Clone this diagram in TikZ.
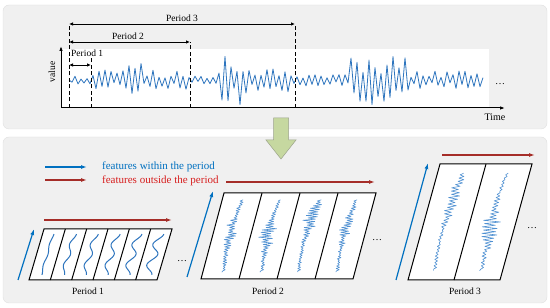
\documentclass[tikz,border=0pt]{standalone}
\usepackage{fontspec}
\setmainfont{Liberation Serif}
\usetikzlibrary{arrows.meta}

\definecolor{panelgray}{RGB}{240,240,240}
\definecolor{sigblue}{RGB}{46,117,190}
\definecolor{wavblue}{RGB}{80,145,210}
\definecolor{featblue}{RGB}{0,112,192}
\definecolor{featred}{RGB}{165,45,40}
\definecolor{textred}{RGB}{215,30,30}
\definecolor{arrowgreen}{RGB}{198,216,160}

% one signal piece running up a slanted slice
\newcommand{\slicewave}[6]{%
  \draw[wave] ({#1+#4*0.08},{#2+#3*0.08})
    \foreach \i in {1,...,60} {
      -- ({#1+#4*(0.08+0.014*\i)+2*sin(300*(0.08+0.014*\i)+#6*200)
           +(1-2*mod(\i,2))*(1.8+#5*bump(0.08+0.014*\i,#6))*(0.2+0.8*rnd)},
          {#2+#3*(0.08+0.014*\i)})
    };}

\begin{document}
\begin{tikzpicture}[x=1pt,y=1pt,
    panel/.style={fill=panelgray,draw=gray!25,rounded corners=6pt},
    axis/.style={line width=1pt,-{Latex[length=5pt,width=3.5pt]}},
    span/.style={line width=0.9pt,{Latex[length=4pt,width=3.5pt]}-{Latex[length=4pt,width=3.5pt]}},
    guide/.style={line width=0.9pt,dash pattern=on 4pt off 2.5pt},
    signal/.style={sigblue,line width=0.8pt,line join=round},
    wave/.style={wavblue,line width=0.6pt,line join=round},
    ripple/.style={sigblue,line width=1pt},
    slicebox/.style={fill=white,draw=black,line width=1pt},
    inarrow/.style={featblue,line width=1.2pt,-{Latex[length=6pt,width=4pt]}},
    outarrow/.style={featred,line width=1.2pt,-{Latex[length=6pt,width=4pt]}},
    lab/.style={font=\fontsize{9.5}{11}\selectfont,inner sep=0pt},
    legtext/.style={font=\fontsize{11}{13}\selectfont,anchor=base west,inner sep=0pt},
    declare function={
      env(\x)=(\x<91) ? 4 : ((\x<128) ? 10 : ((\x<150) ? 17 : ((\x<190) ? 10 :
              ((\x<218) ? 4 : ((\x<252) ? 25 : ((\x<295) ? 12 : ((\x<350) ? 6 :
              ((\x<410) ? 25 : 9))))))));
      bump(\t,\c)=exp(-((\t-\c)*(\t-\c))/0.03);
    }]
  \useasboundingbox (0,0) rectangle (550,308);
  \pgfmathsetseed{12}

  % Panels
  \draw[panel] (3,179) rectangle (547,303);
  \draw[panel] (3,5) rectangle (547,171);

  % Signal and axes
  \fill[white] (61,200) rectangle (489,259);
  \draw[signal] (69,228)
    \foreach \i in {1,...,138} {
      -- ({69+3*\i},{228+env(69+3*\i)*(1-2*mod(\i,2))*(0.2+0.8*rnd)})
    };
  \draw[axis] (61,200) -- (505,200);
  \draw[axis] (61,200) -- (61,262);
  \node[font=\fontsize{10}{12}\selectfont,anchor=base] (time) at (495,187) {Time};
  \node[font=\fontsize{9.5}{11}\selectfont,rotate=90] (value) at (52,236) {value};
  \node[font=\fontsize{10}{12}\selectfont,anchor=base] (topdots) at (500,223) {\dots};

  % Period marks
  \draw[guide] (69,200) -- (69,284);
  \draw[guide] (91,200) -- (91,250);
  \draw[guide] (190,200) -- (190,266);
  \draw[guide] (295,200) -- (295,284);
  \draw[span] (69,243) -- (91,243);
  \draw[span] (69,266) -- (190,266);
  \draw[span] (69,284) -- (295,284);
  \node[lab,anchor=base west] (tp1) at (71,251) {Period 1};
  \node[lab,anchor=base] (tp2) at (128,268) {Period 2};
  \node[lab,anchor=base] (tp3) at (182,286) {Period 3};

  % Green arrow
  \draw[fill=arrowgreen,draw=gray!60!arrowgreen,line width=0.5pt]
    (273.5,190) -- (288.5,190) -- (288.5,168) -- (296,168) -- (281,149)
    -- (266,168) -- (273.5,168) -- cycle;

  % Legend
  \draw[inarrow] (45,141) -- (87,141);
  \draw[outarrow] (45,128) -- (87,128);
  \node[legtext,text=featblue] (legin) at (102,138) {features within the period};
  \node[legtext,text=textred] (legout) at (102,124) {features outside the period};

  % Period 1
  \draw[slicebox] (29,28) -- (157,28) -- (172,79) -- (44,79) -- cycle;
  \foreach \k in {1,...,5}
    \draw[line width=1pt] ({29+21.33*\k},28) -- ++(15,51);
  \foreach \k/\a in {0/0.8,1/2,2/2.5,3/3,4/3.5,5/4}
    \draw[ripple] plot[domain=0.1:0.9,samples=40,variable=\t]
      ({29+21.33*(\k+0.5)+15*\t+\a*sin(900*\t)},{28+51*\t});
  \draw[inarrow] (18,28) -- (34,79);
  \draw[outarrow] (44,88) -- (172,88);
  \node[lab,anchor=base] (bp1) at (88,13) {Period 1};
  \node[font=\fontsize{10}{12}\selectfont,anchor=base] (dots1) at (182,46) {\dots};

  % Period 2
  \draw[slicebox] (201,29) -- (353,29) -- (376,115) -- (224,115) -- cycle;
  \foreach \k in {1,...,3}
    \draw[line width=1pt] ({201+38*\k},29) -- ++(23,86);
  \slicewave{220}{29}{86}{23}{5}{0.55}
  \slicewave{258}{29}{86}{23}{7}{0.5}
  \slicewave{296}{29}{86}{23}{7}{0.7}
  \slicewave{334}{29}{86}{23}{5}{0.6}
  \draw[inarrow] (187,31) -- (213,117);
  \draw[outarrow] (226,126) -- (375,126);
  \node[lab,anchor=base] (bp2) at (268,13) {Period 2};
  \node[font=\fontsize{10}{12}\selectfont,anchor=base] (dots2) at (377,67) {\dots};

  % Period 3
  \draw[slicebox] (408,28) -- (500,28) -- (532,144) -- (440,144) -- cycle;
  \draw[line width=1pt] (454,28) -- (486,144);
  \slicewave{431}{28}{116}{32}{6}{0.7}
  \slicewave{477}{28}{116}{32}{8}{0.45}
  \draw[inarrow] (396,28) -- (428,145);
  \draw[outarrow] (442,153) -- (535,153);
  \node[lab,anchor=base] (bp3) at (465,13) {Period 3};
  \node[font=\fontsize{10}{12}\selectfont,anchor=base] (dots3) at (532,79) {\dots};
\end{tikzpicture}
\end{document}
